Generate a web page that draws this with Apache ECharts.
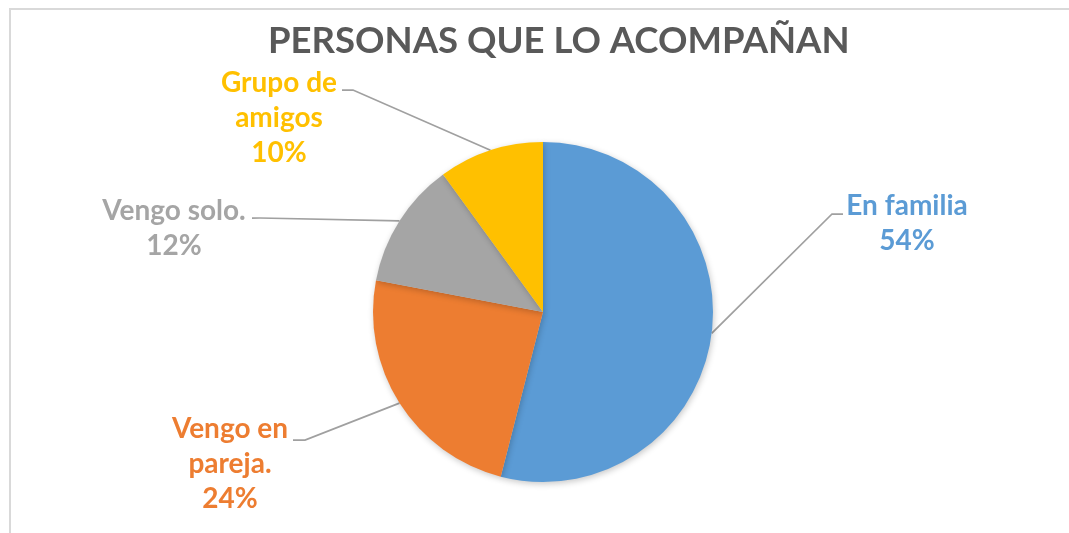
<!DOCTYPE html>
<html>
<head>
<meta charset="utf-8">
<script src="https://cdn.jsdelivr.net/npm/echarts@6/dist/echarts.min.js"></script>
<style>
html,body{margin:0;padding:0;background:#fff;}
#chart{width:1069px;height:533px;}
</style>
</head>
<body>
<div id="chart"></div>
<script>
const titleText = 'PERSONAS QUE LO ACOMPAÑAN';
const categories = ['En familia', 'Vengo en pareja.', 'Vengo solo.', 'Grupo de amigos'];
const labelLines = ['En familia', 'Vengo en\npareja.', 'Vengo solo.', 'Grupo de\namigos'];
const values = [54, 24, 12, 10];
const colors = ['#5B9BD5', '#ED7D31', '#A5A5A5', '#FFC000'];

// label placement (label block centre x, top y, leader bend and end)
const labelPlace = [
  {x: 907, y: 188, bend: [832, 214], end: [843, 214]},
  {x: 230, y: 411, bend: [305, 440], end: [293, 440]},
  {x: 174, y: 193, bend: [260, 218], end: [252, 218]},
  {x: 279, y: 65,  bend: [353, 90],  end: [342, 90]}
];

const chart = echarts.init(document.getElementById('chart'));
const FONT = 'Lato';
chart.setOption({
  animation: false,
  backgroundColor: '#fff',
  graphic: [{
    type: 'rect',
    shape: {x: 10, y: 9, width: 1200, height: 700},
    style: {fill: 'none', stroke: '#d9d9d9', lineWidth: 2},
    silent: true
  }],
  title: {
    text: titleText,
    left: 263,
    top: 18,
    textStyle: {fontFamily: FONT, fontWeight: 'bold', fontSize: 36.5, color: '#595959'}
  },
  series: [{
    type: 'pie',
    center: [543, 312],
    radius: 170,
    startAngle: 90,
    clockwise: true,
    data: categories.map((c, i) => ({
      name: c,
      value: values[i],
      itemStyle: {color: colors[i]},
      label: {color: colors[i]}
    })),
    itemStyle: {
      shadowBlur: 6,
      shadowColor: 'rgba(0,0,0,0.22)',
      shadowOffsetX: 1,
      shadowOffsetY: 2
    },
    label: {
      show: true,
      position: 'outside',
      formatter: p => labelLines[p.dataIndex] + '\n' + Math.round(p.percent) + '%',
      fontFamily: FONT,
      fontWeight: 'bold',
      fontSize: 28,
      lineHeight: 35,
      align: 'center'
    },
    labelLine: {
      show: true,
      lineStyle: {color: '#A0A0A0', width: 1.75}
    },
    labelLayout: function (params) {
      const lp = labelPlace[params.dataIndex];
      const start = params.labelLinePoints ? params.labelLinePoints[0] : lp.bend;
      return {
        x: lp.x,
        y: lp.y,
        align: 'center',
        verticalAlign: 'top',
        labelLinePoints: [[start[0], start[1]], lp.bend.slice(), lp.end.slice()]
      };
    }
  }]
});
</script>
</body>
</html>
